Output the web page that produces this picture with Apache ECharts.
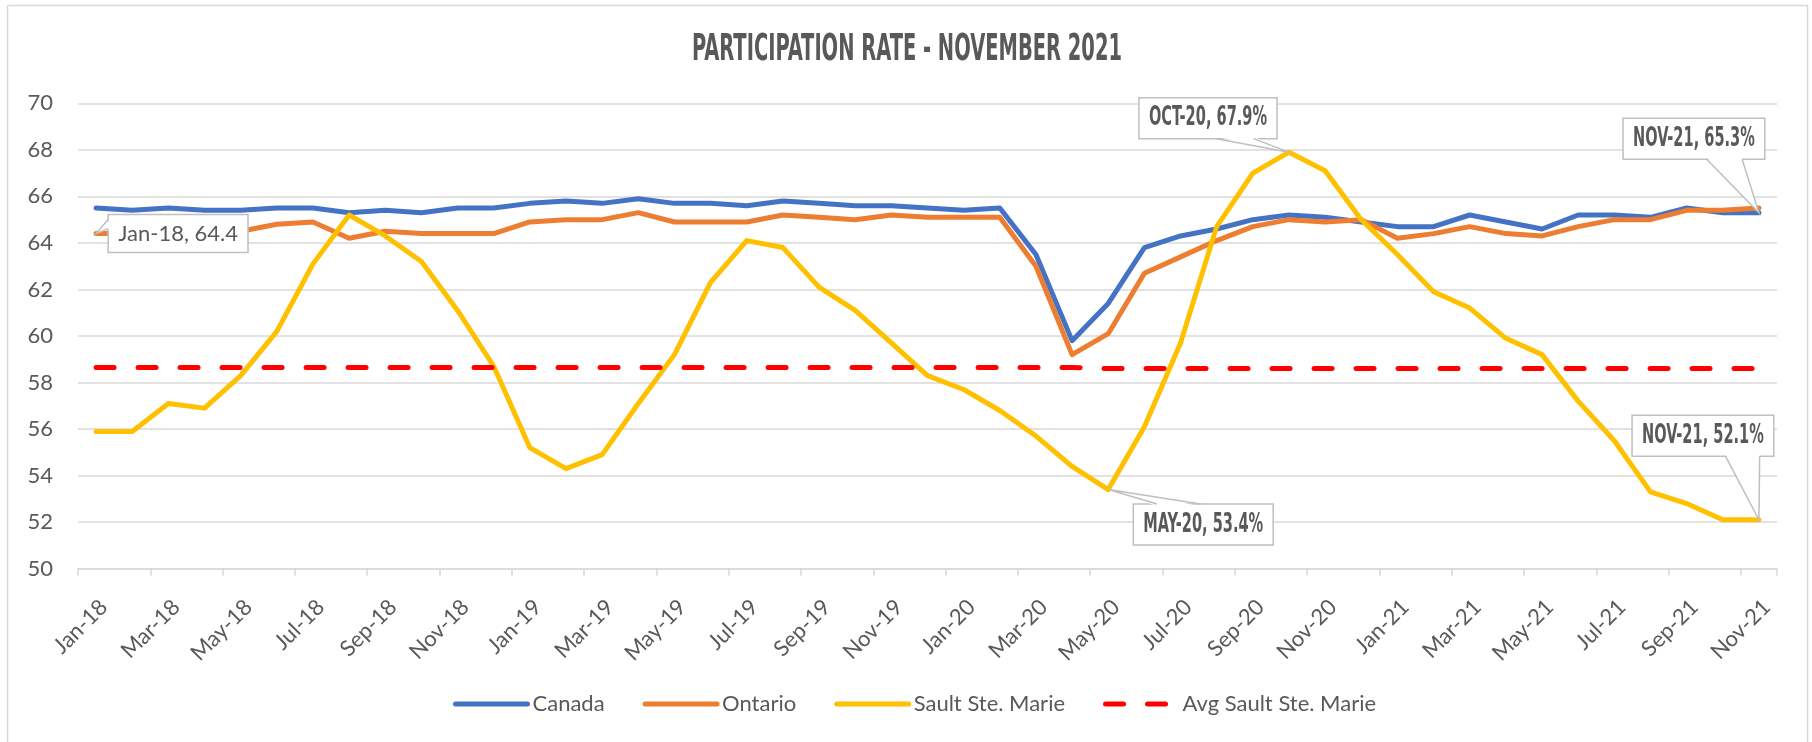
<!DOCTYPE html>
<html>
<head>
<meta charset="utf-8">
<title>Participation Rate - November 2021</title>
<script src="https://cdn.jsdelivr.net/npm/echarts@6/dist/echarts.min.js"></script>
<style>
html, body { margin: 0; padding: 0; background: #fff; }
#chart { width: 1812px; height: 742px; }
</style>
</head>
<body>
<div id="chart"></div>
<script>
// data
var months = ['Jan-18','Feb-18','Mar-18','Apr-18','May-18','Jun-18','Jul-18','Aug-18','Sep-18','Oct-18','Nov-18','Dec-18',
              'Jan-19','Feb-19','Mar-19','Apr-19','May-19','Jun-19','Jul-19','Aug-19','Sep-19','Oct-19','Nov-19','Dec-19',
              'Jan-20','Feb-20','Mar-20','Apr-20','May-20','Jun-20','Jul-20','Aug-20','Sep-20','Oct-20','Nov-20','Dec-20',
              'Jan-21','Feb-21','Mar-21','Apr-21','May-21','Jun-21','Jul-21','Aug-21','Sep-21','Oct-21','Nov-21'];
var canada = [65.5,65.4,65.5,65.4,65.4,65.5,65.5,65.3,65.4,65.3,65.5,65.5,
              65.7,65.8,65.7,65.9,65.7,65.7,65.6,65.8,65.7,65.6,65.6,65.5,
              65.4,65.5,63.5,59.8,61.4,63.8,64.3,64.6,65.0,65.2,65.1,64.9,
              64.7,64.7,65.2,64.9,64.6,65.2,65.2,65.1,65.5,65.3,65.3];
var ontario = [64.4,64.4,64.4,64.4,64.5,64.8,64.9,64.2,64.5,64.4,64.4,64.4,
               64.9,65.0,65.0,65.3,64.9,64.9,64.9,65.2,65.1,65.0,65.2,65.1,
               65.1,65.1,63.0,59.2,60.1,62.7,63.4,64.1,64.7,65.0,64.9,65.0,
               64.2,64.4,64.7,64.4,64.3,64.7,65.0,65.0,65.4,65.4,65.5];
var sault = [55.9,55.9,57.1,56.9,58.3,60.2,63.1,65.2,64.3,63.2,61.1,58.7,
             55.2,54.3,54.9,57.1,59.2,62.3,64.1,63.8,62.1,61.1,59.7,58.3,
             57.7,56.8,55.7,54.4,53.4,56.1,59.7,64.7,67.0,67.9,67.1,65.0,
             63.5,61.9,61.2,59.9,59.2,57.2,55.5,53.3,52.8,52.1,52.1];
var avgSault = [58.65,58.65,58.65,58.65,58.65,58.65,58.65,58.65,58.65,58.65,58.65,58.65,
                58.65,58.65,58.65,58.65,58.65,58.65,58.65,58.65,58.65,58.65,58.65,58.65,
                58.65,58.65,58.65,58.65,58.6,58.6,58.6,58.6,58.6,58.6,58.6,58.6,
                58.6,58.6,58.6,58.6,58.6,58.6,58.6,58.6,58.6,58.6,58.6];
var yMin = 50, yMax = 70, yStep = 2;

// points that carry a callout box: [series, month index]
var calloutPoints = [
    ['Ontario', 0],
    ['Sault Ste. Marie', 28],
    ['Sault Ste. Marie', 33],
    ['Canada', 46],
    ['Sault Ste. Marie', 46]
];
// box centre relative to its point (px), and which side the pointer leaves from
var calloutShift = [[82, 0], [95, 35], [-81, -34], [-65, -74], [-56, -84]];
var calloutWedge = [['left', 0.13, 0.37], ['top', 0.17, 0.48], ['bottom', 0.56, 0.83],
                    ['bottom', 0.59, 0.84], ['bottom', 0.66, 0.9]];

var byName = {'Canada': canada, 'Ontario': ontario, 'Sault Ste. Marie': sault};

var font = 'Lato, "Open Sans", sans-serif';
var grey = '#595959';
var boxGrey = '#bfbfbf';

var chart = echarts.init(document.getElementById('chart'));

var frame = [
    {
        type: 'rect',
        shape: { x: 7.5, y: 5.5, width: 1800, height: 800 },
        style: { fill: 'none', stroke: '#d9d9d9', lineWidth: 1.5 },
        silent: true
    },
    {
        type: 'text',
        x: 907, y: 50,
        scaleX: 0.585,
        style: {
            text: 'PARTICIPATION RATE - NOVEMBER 2021',
            font: 'bold 37px "DejaVu Sans Condensed", sans-serif',
            fill: grey,
            textAlign: 'center',
            textVerticalAlign: 'middle'
        },
        silent: true
    }
];

var option = {
    animation: false,
    backgroundColor: '#fff',
    graphic: frame,
    grid: { left: 78, right: 35, top: 103.3, bottom: 173.3 },
    legend: {
        data: ['Canada', 'Ontario', 'Sault Ste. Marie', 'Avg Sault Ste. Marie'],
        left: 448,
        top: 688,
        itemWidth: 72,
        itemHeight: 14,
        itemGap: 38,
        itemStyle: { opacity: 0 },
        lineStyle: { width: 5, cap: 'round' },
        textStyle: { color: grey, fontFamily: font, fontSize: 22 }
    },
    xAxis: {
        type: 'category',
        data: months,
        boundaryGap: true,
        axisLine: { lineStyle: { color: '#d9d9d9', width: 1.5 } },
        axisTick: { show: true, interval: 1, length: 7, lineStyle: { color: '#d9d9d9', width: 1.5 } },
        axisLabel: {
            interval: 1,
            rotate: 45,
            margin: 27,
            verticalAlign: 'top',
            color: grey,
            fontFamily: font,
            fontSize: 22
        }
    },
    yAxis: {
        type: 'value',
        min: yMin,
        max: yMax,
        interval: yStep,
        axisLine: { show: false },
        axisTick: { show: false },
        axisLabel: { color: grey, fontFamily: font, fontSize: 22, margin: 25 },
        splitLine: { lineStyle: { color: '#d9d9d9', width: 1.5 } }
    },
    series: [
        {
            name: 'Canada', type: 'line', data: canada, symbol: 'none',
            lineStyle: { color: '#4472C4', width: 5, cap: 'round', join: 'round' },
            itemStyle: { color: '#4472C4' }
        },
        {
            name: 'Ontario', type: 'line', data: ontario, symbol: 'none',
            lineStyle: { color: '#ED7D31', width: 5, cap: 'round', join: 'round' },
            itemStyle: { color: '#ED7D31' }
        },
        {
            name: 'Sault Ste. Marie', type: 'line', data: sault, symbol: 'none',
            lineStyle: { color: '#FFC000', width: 5, cap: 'round', join: 'round' },
            itemStyle: { color: '#FFC000' }
        },
        {
            name: 'Avg Sault Ste. Marie', type: 'line', data: avgSault, symbol: 'none',
            lineStyle: { color: '#FF0000', width: 5, type: [18, 24], cap: 'round' },
            itemStyle: { color: '#FF0000' }
        }
    ]
};

chart.setOption(option);

// Excel-style callouts, anchored on the points through the chart's own scales
var measure = document.createElement('canvas').getContext('2d');

var callouts = calloutPoints.map(function (c, k) {
    var i = c[1], v = byName[c[0]][i];
    var pt = chart.convertToPixel({ xAxisIndex: 0, yAxisIndex: 0 }, [i, v]);
    var plain = c[0] === 'Ontario';
    var text = plain ? months[i] + ', ' + v : months[i].toUpperCase() + ', ' + v.toFixed(1) + '%';
    var f = plain ? '22px Lato' : 'bold 27px "DejaVu Sans Condensed"';
    var sx = plain ? 1 : 0.6;
    measure.font = f;
    var w = measure.measureText(text).width * sx + 20;
    var h = plain ? 38 : 41;
    var cx = pt[0] + calloutShift[k][0], cy = pt[1] + calloutShift[k][1];
    var x0 = cx - w / 2, y0 = cy - h / 2;
    var wd = calloutWedge[k], a, b, a2, b2;
    if (wd[0] === 'bottom') {
        a = [x0 + w * wd[1], y0 + h]; b = [x0 + w * wd[2], y0 + h];
        a2 = [a[0], a[1] - 2]; b2 = [b[0], b[1] - 2];
    } else if (wd[0] === 'top') {
        a = [x0 + w * wd[1], y0]; b = [x0 + w * wd[2], y0];
        a2 = [a[0], a[1] + 2]; b2 = [b[0], b[1] + 2];
    } else {
        a = [x0, y0 + h * wd[1]]; b = [x0, y0 + h * wd[2]];
        a2 = [a[0] + 2, a[1]]; b2 = [b[0] + 2, b[1]];
    }
    return {
        type: 'group',
        silent: true,
        children: [
            { type: 'rect', z: 100, shape: { x: x0, y: y0, width: w, height: h },
              style: { fill: '#fff', stroke: boxGrey, lineWidth: 1.5 } },
            { type: 'polygon', z: 101, shape: { points: [a2, pt, b2] },
              style: { fill: '#fff' } },
            { type: 'polyline', z: 102, shape: { points: [a, pt, b] },
              style: { stroke: boxGrey, lineWidth: 1.5, fill: null } },
            { type: 'text', z: 103, x: cx, y: cy, scaleX: sx,
              style: { text: text, font: f, fill: grey, textAlign: 'center', textVerticalAlign: 'middle' } }
        ]
    };
});

chart.setOption({ graphic: frame.concat(callouts) });
</script>
</body>
</html>
